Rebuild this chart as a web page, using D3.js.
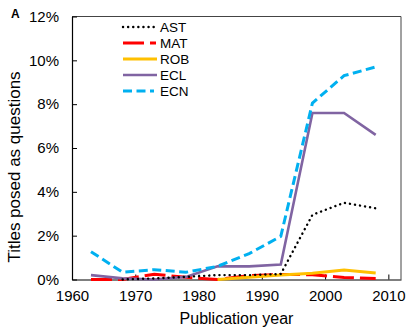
<!DOCTYPE html>
<html>
<head>
<meta charset="utf-8">
<script src="https://cdn.jsdelivr.net/npm/d3@7"></script>
<style>
  body { margin: 0; background: #fff; }
  svg { display: block; font-family: "Liberation Sans", Arial, sans-serif; }
</style>
</head>
<body>
<div id="chart"></div>
<script>
const width = 407;
const height = 327;
const margin = { top: 16.5, right: 6, bottom: 47.5, left: 72 };

// Data (5-year bins, % of titles posed as questions)
const years = [1963, 1968, 1973, 1978, 1983, 1988, 1993, 1998, 2003, 2008];
const ast = [null, 0, 0.05, 0.12, 0.2, 0.2, 0.25, 2.95, 3.5, 3.25];
const mat = [0, 0, 0.24, 0.1, 0, 0.18, 0.23, 0.22, 0.09, 0.04];
const rob = [null, null, null, null, 0, 0.1, 0.2, 0.28, 0.43, 0.3];
const ecl = [0.2, 0.05, 0, 0.12, 0.6, 0.6, 0.68, 7.6, 7.6, 6.6];
const ecn = [1.27, 0.33, 0.45, 0.33, 0.6, 1.18, 1.97, 8.05, 9.3, 9.7];
const xTicks = [1960, 1970, 1980, 1990, 2000, 2010];
const yTicks = [0, 2, 4, 6, 8, 10, 12];

const series = [
  { name: "AST", values: ast, color: "#000", width: 2.4, dash: "0.1,5", cap: "round" },
  { name: "MAT", values: mat, color: "#ff0000", width: 3, dash: "21,6", cap: "butt" },
  { name: "ROB", values: rob, color: "#ffc000", width: 3, dash: null, cap: "butt" },
  { name: "ECL", values: ecl, color: "#8064a2", width: 2.6, dash: null, cap: "butt" },
  { name: "ECN", values: ecn, color: "#00b0f0", width: 3, dash: "9,4.5", cap: "butt" }
];
// order the lines are painted in
const drawOrder = ["MAT", "ROB", "ECL", "ECN", "AST"];

let svg = d3.select("#chart").append("svg")
  .attr("width", width)
  .attr("height", height);

let x = d3.scaleLinear().domain([1960, 2012]).range([margin.left, width - margin.right]);
let y = d3.scaleLinear().domain([0, 12]).range([height - margin.bottom, margin.top]);

// frame (top and right)
svg.append("path")
  .attr("d", `M${x.range()[0]},${y(12)}H${x.range()[1]}V${y(0)}`)
  .attr("fill", "none")
  .attr("stroke", "#444")
  .attr("stroke-width", 1);

// axes with inward ticks
let xAxis = svg.append("g")
  .attr("transform", `translate(0,${y(0)})`)
  .call(d3.axisBottom(x).tickValues(xTicks).tickFormat(d3.format("d")).tickSizeInner(-5).tickSizeOuter(0).tickPadding(11));
let yAxis = svg.append("g")
  .attr("transform", `translate(${x(1960)},0)`)
  .call(d3.axisLeft(y).tickValues(yTicks).tickFormat(d => d + "%").tickSizeInner(-5).tickSizeOuter(0).tickPadding(13));

[xAxis, yAxis].forEach(a => {
  a.select(".domain").attr("stroke", "#000").attr("stroke-width", 1.2);
  a.selectAll(".tick line").attr("stroke", "#000");
  a.selectAll("text").attr("font-size", 15).attr("fill", "#000").attr("font-family", "Liberation Sans, Arial, sans-serif");
});

// lines
let line = d3.line()
  .defined(d => d[1] !== null)
  .x(d => x(d[0]))
  .y(d => y(d[1]));

drawOrder.forEach(name => {
  let s = series.find(t => t.name === name);
  svg.append("path")
    .datum(years.map((yr, i) => [yr, s.values[i]]))
    .attr("d", line)
    .attr("fill", "none")
    .attr("stroke", s.color)
    .attr("stroke-width", s.width)
    .attr("stroke-linejoin", "miter")
    .attr("stroke-linecap", s.cap)
    .attr("stroke-dasharray", s.dash);
});

// legend
let legend = svg.append("g");
series.forEach((s, i) => {
  let ly = 27 + i * 16;
  let len = s.name === "MAT" ? 33 : (s.dash ? 31 : 34);
  legend.append("line")
    .attr("x1", 123).attr("x2", 123 + len)
    .attr("y1", ly).attr("y2", ly)
    .attr("stroke", s.color)
    .attr("stroke-width", s.width)
    .attr("stroke-linecap", s.cap)
    .attr("stroke-dasharray", s.dash);
  legend.append("text")
    .attr("x", 160)
    .attr("y", ly)
    .attr("dy", "0.35em")
    .attr("font-size", 13.5)
    .text(s.name);
});

// axis titles
svg.append("text")
  .attr("x", x(1986))
  .attr("y", 324)
  .attr("text-anchor", "middle")
  .attr("font-size", 16)
  .text("Publication year");

svg.append("text")
  .attr("transform", `translate(20,${(y(0) + y(12)) / 2 + 19}) rotate(-90)`)
  .attr("text-anchor", "middle")
  .attr("font-size", 17)
  .text("Titles posed as questions");

// panel letter
svg.append("text")
  .attr("x", 11)
  .attr("y", 18)
  .attr("font-size", 12)
  .attr("font-weight", "bold")
  .text("A");
</script>
</body>
</html>
